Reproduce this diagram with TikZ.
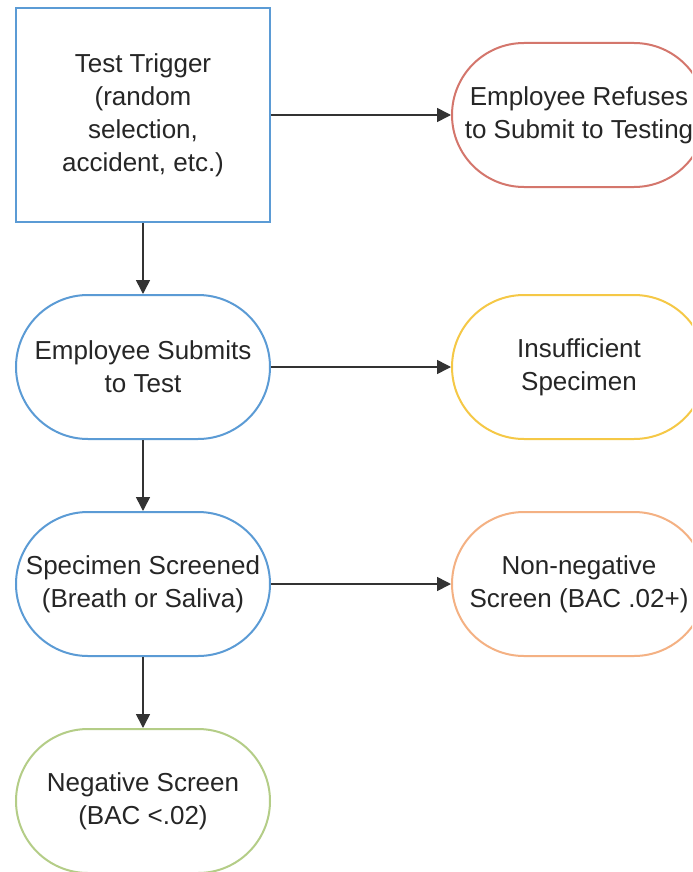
\documentclass[tikz,border=0pt]{standalone}
\usepackage{fontspec}
\setmainfont{Liberation Sans}
\usetikzlibrary{arrows.meta}
\definecolor{stepblue}{RGB}{91,155,213}
\definecolor{refusered}{RGB}{212,118,108}
\definecolor{shortyellow}{RGB}{245,200,70}
\definecolor{flagorange}{RGB}{244,177,131}
\definecolor{passgreen}{RGB}{180,205,135}
\begin{document}
\begin{tikzpicture}[x=0.5pt,y=-0.5pt,
  every node/.style={font=\fontsize{13}{16.5}\selectfont, align=center, text=black!85, fill=white},
  trigbox/.style={draw, line width=1pt, minimum width=127pt, minimum height=107pt, inner sep=0pt},
  pill/.style={draw, line width=1pt, rounded corners=36pt, minimum width=127pt, minimum height=72pt, inner sep=0pt},
  flow/.style={-{Triangle[width=7pt,length=7pt]}, line width=0.8pt, black!80}]
\path[use as bounding box, clip] (0,0) rectangle (692,872);
\fill[white] (0,0) rectangle (692,872);

% left column
\node[trigbox, draw=stepblue] (trigger) at (143,115) {Test Trigger\\(random\\selection,\\accident, etc.)};
\node[pill, draw=stepblue] (submits) at (143,367) {Employee Submits\\to Test};
\node[pill, draw=stepblue] (screened) at (143,584) {Specimen Screened\\(Breath or Saliva)};
\node[pill, draw=passgreen] (negative) at (143,801) {Negative Screen\\(BAC <.02)};

% right column
\node[pill, draw=refusered] (refuses) at (579,115) {Employee Refuses\\to Submit to Testing};
\node[pill, draw=shortyellow] (insufficient) at (579,367) {Insufficient\\Specimen};
\node[pill, draw=flagorange] (nonneg) at (579,584) {Non-negative\\Screen (BAC .02+)};

\draw[flow] (trigger) -- (refuses);
\draw[flow] (trigger) -- (submits);
\draw[flow] (submits) -- (insufficient);
\draw[flow] (submits) -- (screened);
\draw[flow] (screened) -- (nonneg);
\draw[flow] (screened) -- (negative);
\end{tikzpicture}
\end{document}
